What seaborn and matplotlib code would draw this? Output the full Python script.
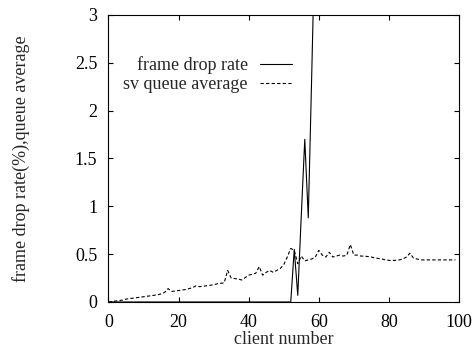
import numpy as np
import pandas as pd
import seaborn as sns
import matplotlib
matplotlib.use("Agg")
import matplotlib.pyplot as plt

# frame drop rate (%) per client number -- zero up to 52, then explodes off the top
drop_clients = list(range(0, 60))
drop_rate = [0.0] * 53 + [0.55, 0.07, 0.9, 1.7, 0.88, 2.4, 4.0]

# server queue average per client number
queue_clients = list(range(0, 100))
queue_avg = [
    0.0, 0.005, 0.01, 0.015, 0.02, 0.03, 0.035, 0.04, 0.045, 0.05,
    0.055, 0.06, 0.065, 0.07, 0.075, 0.085, 0.10, 0.14, 0.11, 0.115,
    0.12, 0.125, 0.13, 0.14, 0.15, 0.17, 0.16, 0.165, 0.17, 0.175,
    0.18, 0.19, 0.195, 0.20, 0.33, 0.25, 0.245, 0.24, 0.23, 0.255,
    0.28, 0.29, 0.30, 0.37, 0.28, 0.31, 0.33, 0.31, 0.33, 0.35,
    0.39, 0.47, 0.56, 0.54, 0.40, 0.48, 0.43, 0.44, 0.45, 0.47,
    0.54, 0.49, 0.47, 0.52, 0.47, 0.48, 0.49, 0.48, 0.49, 0.60,
    0.49, 0.49, 0.48, 0.48, 0.475, 0.47, 0.46, 0.455, 0.45, 0.44,
    0.435, 0.435, 0.435, 0.44, 0.45, 0.47, 0.51, 0.46, 0.45, 0.44,
    0.44, 0.44, 0.44, 0.44, 0.44, 0.44, 0.44, 0.44, 0.44, 0.44,
]

x_ticks = [0, 20, 40, 60, 80, 100]
y_ticks = [0, 0.5, 1, 1.5, 2, 2.5, 3]
y_ticklabels = ["0", "0.5", "1", "1.5", "2", "2.5", "3"]

sns.set_style("ticks", {
    "xtick.direction": "in", "ytick.direction": "in",
    "axes.edgecolor": "black", "xtick.color": "black", "ytick.color": "black",
})
plt.rcParams["font.family"] = ["Liberation Serif", "DejaVu Serif"]
plt.rcParams["font.size"] = 13

drop_df = pd.DataFrame({"client": drop_clients, "value": drop_rate})
queue_df = pd.DataFrame({"client": queue_clients, "value": queue_avg})

fig = plt.figure(figsize=(4.75, 3.47), dpi=100)
ax = fig.add_axes([0.2284, 0.1297, 0.7379, 0.8271])

sns.lineplot(data=drop_df, x="client", y="value", ax=ax, color="black",
             linewidth=0.8, label="frame drop rate")
sns.lineplot(data=queue_df, x="client", y="value", ax=ax, color="black",
             linewidth=0.8, label="sv queue average", dashes=False)
ax.lines[1].set_dashes((3, 2))

ax.set_xlim(0, 100)
ax.set_ylim(0, 3)
ax.set_xticks(x_ticks)
ax.set_yticks(y_ticks)
ax.set_yticklabels(y_ticklabels)
ax.tick_params(axis="both", which="major", labelsize=13, length=3.5, width=0.8,
               top=True, right=True)
ax.tick_params(axis="x", pad=8.5)
ax.tick_params(axis="y", pad=8)
for s in ax.spines.values():
    s.set_linewidth(0.8)
    s.set_visible(True)

ax.set_xlabel("client number", fontsize=13, labelpad=0)
ax.set_ylabel("frame drop rate(%),queue average", fontsize=13)
ax.yaxis.set_label_coords(-0.225, 0.5)

leg = ax.legend(loc="upper right", bbox_to_anchor=(0.524, 0.855), frameon=False,
                markerfirst=False, handlelength=1.8, handletextpad=0.65,
                fontsize=13, labelspacing=0.1, borderpad=0, borderaxespad=0)

fig.savefig("out.png", dpi=100)
